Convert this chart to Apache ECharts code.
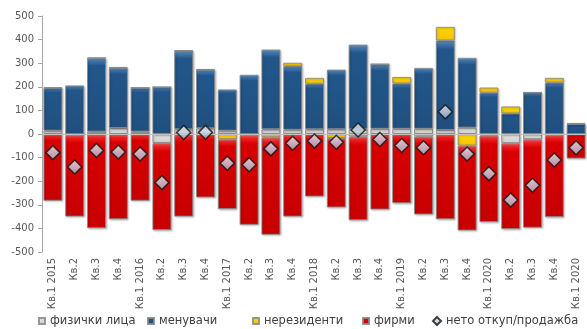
<!DOCTYPE html>
<html>
<head>
<meta charset="utf-8">
<script src="https://cdn.jsdelivr.net/npm/echarts@6/dist/echarts.min.js"></script>
<style>
html,body{margin:0;padding:0;background:#fff;}
#chart{width:587px;height:329px;}
</style>
</head>
<body>
<div id="chart"></div>
<script>
var categories = ['Кв.1 2015','Кв.2','Кв.3','Кв.4','Кв.1 2016','Кв.2','Кв.3','Кв.4','Кв.1 2017','Кв.2','Кв.3','Кв.4','Кв.1 2018','Кв.2','Кв.3','Кв.4','Кв.1 2019','Кв.2','Кв.3','Кв.4','Кв.1 2020','Кв.2','Кв.3','Кв.4','Кв.1 2020'];
var individuals = [14, 0, 10, 25, 10, -38, 20, 24, 14, 0, 20, 18, 20, 20, 20, 22, 22, 22, 17, 27, -6, -39, -22, -3, 0];
var exchangers = [181, 206, 311, 255, 186, 199, 332, 248, 175, 251, 338, 269, 193, 253, 359, 274, 192, 258, 379, 296, 175, 87, 176, 218, 42];
var nonResidents = [3, -3, 3, 4, 0, 0, 3, 3, -22, -4, -14, 15, 25, -17, -11, 0, 28, -11, 58, -49, 22, 30, 0, 20, 5];
var firms = [-283, -347, -399, -361, -283, -369, -350, -269, -296, -381, -413, -350, -265, -294, -354, -320, -293, -330, -361, -360, -367, -364, -375, -349, -104];
var net = [-79, -140, -70, -76, -85, -206, 6, 7, -124, -130, -63, -39, -30, -35, 17, -23, -49, -58, 94, -85, -168, -280, -217, -110, -58];
var yTicks = {min: -500, max: 500, interval: 100};

function grad(c0, c1, c2, c3) {
  return {type: 'linear', x: 0, y: 0, x2: 0, y2: 1, colorStops: [
    {offset: 0, color: c0}, {offset: 0.04, color: c1}, {offset: 0.1, color: c2}, {offset: 1, color: c3}
  ]};
}
var FONT = 'DejaVu Sans';
var chart = echarts.init(document.getElementById('chart'));
function barSeries(name, data, fill) {
  return {
    name: name, type: 'bar', stack: 'all', data: data, barWidth: 19,
    itemStyle: {color: fill, borderColor: 'rgba(135,135,135,0.85)', borderWidth: 1,
      shadowColor: 'rgba(0,0,0,0.25)', shadowBlur: 2, shadowOffsetX: 1, shadowOffsetY: 1},
    emphasis: {disabled: true}
  };
}
function legend(name, left, icon, w) {
  return {data: [{name: name, icon: icon}], left: left, top: 315, padding: 0,
    itemWidth: w, itemHeight: w, textStyle: {fontFamily: FONT, fontSize: 11.5, color: '#404040'}};
}
var option = {
  animation: false,
  grid: {left: 42, top: 16, width: 550, height: 236, containLabel: false},
  legend: [
    legend('физички лица', 38, 'rect', 6),
    legend('менувачи', 147, 'rect', 6),
    legend('нерезиденти', 252, 'rect', 6),
    legend('фирми', 362, 'rect', 6),
    legend('нето откуп/продажба', 432, 'diamond', 8)
  ],
  xAxis: {
    type: 'category', data: categories,
    axisLine: {show: false, onZero: false}, axisTick: {show: false},
    axisLabel: {rotate: 90, interval: 0, margin: 6, fontFamily: FONT, fontSize: 10, color: '#595959'}
  },
  yAxis: {
    type: 'value', min: yTicks.min, max: yTicks.max, interval: yTicks.interval,
    splitLine: {show: false},
    axisLine: {show: true, lineStyle: {color: '#a6a6a6'}},
    axisTick: {show: true, length: 4, lineStyle: {color: '#a6a6a6'}},
    axisLabel: {margin: 8, fontFamily: FONT, fontSize: 10, color: '#595959'}
  },
  series: [
    barSeries('физички лица', individuals, grad('#ffffff', '#f6f6f6', '#e2e2e2', '#cfcfcf')),
    barSeries('менувачи', exchangers, grad('#7aa6d4', '#4277ad', '#22568a', '#1f4f7e')),
    barSeries('нерезиденти', nonResidents, grad('#fff6a0', '#ffe633', '#ffd400', '#f5c400')),
    Object.assign(barSeries('фирми', firms, grad('#ff7070', '#ee2020', '#d70000', '#c80000')), {
      markLine: {silent: true, symbol: 'none', label: {show: false},
        lineStyle: {color: '#bfbfbf', width: 1, type: 'solid'}, data: [{yAxis: 0}]}
    }),
    {
      name: 'нето откуп/продажба', type: 'scatter', data: net, symbol: 'diamond', symbolSize: 14, z: 5,
      itemStyle: {color: {type: 'linear', x: 0, y: 0, x2: 0, y2: 1, colorStops: [
        {offset: 0, color: '#f2f6fb'}, {offset: 1, color: '#9fb4d2'}]},
        borderColor: '#111', borderWidth: 1.5},
      emphasis: {disabled: true}
    }
  ]
};
chart.setOption(option);
</script>
</body>
</html>
